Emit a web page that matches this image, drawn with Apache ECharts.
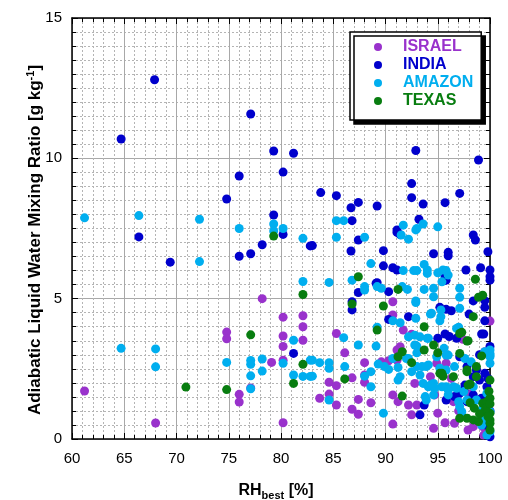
<!DOCTYPE html>
<html><head><meta charset="utf-8">
<script src="https://cdn.jsdelivr.net/npm/echarts@6/dist/echarts.min.js"></script>
<style>html,body{margin:0;padding:0;background:#fff}#c{width:508px;height:500px}</style>
</head><body><div id="c"></div>
<script>
var FONT = '"Liberation Sans", Arial, Helvetica, sans-serif';
var seriesNames = ['ISRAEL', 'INDIA', 'AMAZON', 'TEXAS'];
var seriesColors = ['#9932CC', '#0000CC', '#00AEEF', '#087D10'];
var xTicks = [60, 65, 70, 75, 80, 85, 90, 95, 100];
var yTicks = [0, 5, 10, 15];

var israel = [
[61.2,1.71],[68.0,0.57],[78.2,5.0],[74.8,3.81],[74.8,3.57],[76.0,1.59],[76.0,1.32],[77.1,1.82],[79.1,2.73],[80.2,4.34],[80.2,3.67],[80.2,3.30],[80.2,2.81],[80.2,0.58],[82.1,4.39],[82.1,4.0],[82.1,3.52],
[85.3,3.76],[86.1,3.07],[88.0,2.72],[84.6,2.02],[85.3,1.90],[84.6,1.60],[83.7,1.45],[85.3,1.21],[86.8,2.18],[88.0,2.02],[88.0,2.28],[87.4,1.41],[88.6,1.29],[86.8,1.06],[87.4,0.88],
[90.7,4.89],[90.7,4.42],[91.7,3.88],[91.4,3.29],[91.1,3.17],[91.1,2.81],[89.6,2.75],[90.3,2.79],[90.7,1.57],[91.2,1.33],[90.7,0.53],[92.2,1.21],[93.0,1.21],[92.5,0.86],[92.8,1.98],[94.7,1.57],[95.0,0.92],[94.6,0.38],[95.7,0.58],[96.6,0.56],[94.9,2.70],[95.8,2.70],[96.5,1.33],[97.9,0.32],[98.4,0.44],[99.3,0.44],[99.7,0.20],[100,4.2],[97.4,3.55],[99.5,3.11],[98.7,2.48],[92.5,3.73],[94.3,2.22],[96.3,2.16],[99.4,0.14],[97.0,1.0],[98.0,1.6]
];
var india = [
[64.7,10.69],[67.9,12.8],[77.1,11.58],[92.9,10.28],[98.9,9.94],[92.5,9.1],[83.8,8.78],[85.3,8.67],[92.5,8.6],[97.1,8.75],[87.4,8.43],[86.7,8.24],[89.2,8.3],[93.6,8.37],[95.7,8.42],[86.8,7.78],[93.2,7.83],
[76.0,9.37],[80.2,9.51],[79.3,10.26],[81.2,10.18],[74.8,8.55],[79.3,7.98],[80.2,7.29],[66.4,7.2],[78.2,6.92],[76.0,6.51],[77.1,6.6],[69.4,6.3],[82.8,6.88],[81.2,3.05],
[83.0,6.89],[87.4,7.09],[86.7,6.7],[89.8,6.71],[89.8,6.17],[91.1,7.36],[91.4,7.28],[91.1,7.45],[94.6,6.6],[96.0,6.65],[96.0,6.53],[98.4,7.27],[98.6,7.09],[99.8,6.67],[90.7,6.1],[91.1,6.02],[95.7,5.66],[97.7,6.02],[99.1,6.1],[100,6.02],[100,5.78],[100,5.66],[89.1,5.55],[87.4,5.22],[90.3,5.25],[86.8,4.89],[86.8,4.6],[95.2,4.69],[95.8,4.62],[96.3,4.57],[98.4,4.92],[99.5,4.93],[99.5,4.69],[99.5,4.21],[90.3,4.26],[92.2,4.36],[98.0,4.45],[95.7,3.74],[99.2,3.74],[99.4,3.74],[93.7,1.21],[93.3,0.86],
[97.1,2.93],[97.8,2.58],[98.4,2.22],[99.0,2.1],[99.7,1.86],[97.1,1.63],[98.1,1.39],[95.7,5.78],[95.8,5.66],
[95.0,3.59],[96.1,3.65],[96.8,3.59],[98.7,2.46],[99.5,2.34],[99.8,2.16],[97.5,1.75],[98.4,1.57],[99.2,1.45],[97.6,1.92],[97.8,1.33],[100,0.08],[96.6,1.51],[95.8,1.39],[89.2,5.57],[100,1.0],[99.6,0.5],[100,3.3],[99.0,3.0]
];
var amazon = [
[61.2,7.88],[66.4,7.96],[72.2,7.83],[76.0,7.5],[79.3,7.66],[79.3,7.41],[80.2,7.5],[82.1,7.15],[72.2,6.32],[82.1,5.61],[64.7,3.23],[68.0,3.21],[68.0,2.57],[74.8,2.73],[77.1,2.80],[77.1,2.66],[78.2,2.85],[78.2,2.42],[77.1,2.25],[77.1,1.79],[80.2,2.70],[81.2,3.52],[81.2,2.28],[82.1,2.23],[82.8,2.81],[82.8,2.23],
[85.3,7.78],[86.0,7.78],[85.3,7.19],[88.0,7.19],[91.7,7.62],[92.9,7.45],[93.6,7.66],[95.0,7.56],[91.5,7.27],[92.2,7.12],[88.6,6.25],[84.6,5.58],[86.8,5.66],[88.0,5.43],[88.0,5.31],[89.2,5.43],[89.6,5.37],[91.6,5.43],[91.7,6.0],[92.7,6.0],[93.0,6.0],[93.7,6.22],[94.0,6.02],[94.0,5.9],[95.0,5.92],[95.5,6.02],[95.8,6.0],[96.0,5.84],[92.1,5.33],[93.7,5.33],[94.6,5.37],[94.6,5.07],[97.1,5.37],[97.1,5.05],[92.9,4.92],[92.9,4.86],[90.7,4.21],[91.4,4.14],[92.9,4.3],[94.3,4.45],[95.2,4.21],[97.1,4.66],[95.4,5.6],[94.4,4.48],[95.3,4.6],[95.3,4.36],[97.0,3.98],[93.0,7.5],[89.2,3.98],
[86.0,3.61],[87.4,3.35],[89.1,3.31],[92.2,3.64],[92.8,3.70],[93.0,3.31],[93.0,3.07],[94.0,3.59],[95.6,3.23],[95.8,2.99],[96.8,3.94],[83.0,2.24],[83.0,2.81],[83.7,2.72],[84.6,2.72],[84.6,2.52],[86.1,2.58],[88.0,2.24],[88.6,2.40],[88.6,1.86],[89.3,2.67],[89.9,2.58],[90.3,2.48],[90.7,2.87],[91.2,2.55],[91.4,2.22],[91.2,2.10],[92.0,2.87],[93.0,2.58],[93.3,2.28],[93.9,2.58],[93.6,1.98],[94.1,1.86],[94.6,1.98],[95.8,1.86],[96.5,1.86],[84.6,1.39],[89.8,0.92],[93.9,1.39],[97.1,1.15],[97.8,1.39],[98.4,1.86],[99.7,1.63],[100,3.05],[100,3.17],[100,2.93],
[93.3,3.64],[94.1,3.59],[92.8,3.35],[92.2,2.87],[93.5,2.58],[94.1,2.64],[92.5,2.40],[94.9,2.93],[96.0,2.99],[95.2,2.52],[95.8,2.46],[96.6,2.58],[97.6,2.87],[98.2,2.75],[99.5,3.11],[100,2.99],[100,2.70],[94.3,1.92],[94.7,1.81],[95.4,1.86],[96.0,1.75],[96.8,1.81],[97.5,1.69],[93.8,1.51],[94.6,1.57],[96.0,1.57],[97.0,1.33],[98.7,1.39],[97.3,0.97],[99.2,1.03],[99.5,0.74],[100,0.97],[99.2,0.50],[100,0.26],[99.7,0.14]
];
var texas = [
[70.9,1.85],[74.8,1.76],[77.1,3.71],[79.3,7.23],[82.1,5.15],[82.1,2.66],[81.2,1.98],
[87.4,5.78],[86.8,4.81],[89.8,4.74],[91.2,5.33],[89.2,3.88],[93.7,4.0],[86.1,2.14],[91.6,3.11],[91.2,2.93],[92.5,2.72],[93.7,3.17],[94.6,3.35],[95.0,3.07],[95.2,2.34],[95.5,2.24],[96.5,2.22],[91.6,1.53],
[97.1,3.76],[97.9,3.50],[97.1,3.05],[98.6,5.69],[98.9,5.05],[99.3,5.12],[98.4,4.36],[99.2,2.96],[98.7,2.58],[97.8,2.40],[98.7,2.22],[100,2.10],[98.1,1.96],[98.1,1.29],[99.3,1.27],[99.7,1.33],[100,1.45],[97.1,0.74],[97.8,0.74],[98.4,0.68],[98.9,0.62],[99.5,0.97],[100,0.92],[100,0.68],[100,0.56],[100,0.32],[97.3,3.8],[97.8,3.49],[95.4,2.34],[97.8,2.46],[97.9,1.92],[99.6,1.1],[99.9,1.7],[99.8,0.8],[99.0,0.9],[98.5,1.1],[100,1.25]
];
var allData = [israel, india, amazon, texas];

var chart = echarts.init(document.getElementById('c'), null, {renderer: 'canvas'});

function xAxisDef(pos, showLabel, showSplit) {
  return {
    type: 'value', position: pos, min: xTicks[0], max: xTicks[xTicks.length - 1], interval: 5,
    axisLine: {show: true, onZero: false, lineStyle: {color: '#000', width: 1.5}},
    axisTick: {show: true, inside: true, length: 6, lineStyle: {color: '#000', width: 1}},
    minorTick: {show: true, splitNumber: 5, length: 4, lineStyle: {color: '#000', width: 1}},
    axisLabel: {show: showLabel, fontSize: 15, color: '#000', fontFamily: FONT, margin: 12},
    splitLine: {show: showSplit, lineStyle: {color: '#a8a8a8', width: 1}},
    minorSplitLine: {show: showSplit, lineStyle: {color: '#b4b4b4', width: 1, type: [2, 2]}}
  };
}
function yAxisDef(pos, showLabel, showSplit) {
  return {
    type: 'value', position: pos, min: yTicks[0], max: yTicks[yTicks.length - 1], interval: 5,
    axisLine: {show: true, onZero: false, lineStyle: {color: '#000', width: 1.5}},
    axisTick: {show: true, inside: true, length: 6, lineStyle: {color: '#000', width: 1}},
    minorTick: {show: true, splitNumber: 10, length: 4, lineStyle: {color: '#000', width: 1}},
    axisLabel: {show: showLabel, fontSize: 15, color: '#000', fontFamily: FONT, margin: 10},
    splitLine: {show: showSplit, lineStyle: {color: '#a8a8a8', width: 1}},
    minorSplitLine: {show: showSplit, lineStyle: {color: '#b4b4b4', width: 1, type: [2, 2]}}
  };
}

var option = {
  animation: false,
  backgroundColor: '#fff',
  grid: {left: 72, right: 18, top: 18, bottom: 61, containLabel: false},
  xAxis: [xAxisDef('bottom', true, true), xAxisDef('top', false, false)],
  yAxis: [yAxisDef('left', true, true), yAxisDef('right', false, false)],
  legend: {
    orient: 'vertical', left: 350, top: 32,
    itemWidth: 40, itemHeight: 8, itemGap: 2,
    padding: [7, 8, 11, 24],
    backgroundColor: '#fff', borderColor: '#000', borderWidth: 1.5, borderRadius: 0,
    shadowColor: '#000', shadowBlur: 0, shadowOffsetX: 4, shadowOffsetY: 4,
    textStyle: {fontSize: 16, fontWeight: 'bold', fontFamily: FONT, lineHeight: 16},
    data: seriesNames.map(function (n, i) {
      return {name: n, icon: 'circle', textStyle: {color: seriesColors[i]}};
    })
  },
  graphic: [
    {
      type: 'text', x: 35, y: 240, rotation: Math.PI / 2,
      style: {
        text: 'Adiabatic Liquid Water Mixing Ratio [g kg{sup|-1}]',
        font: 'bold 17px ' + FONT, fill: '#000', align: 'center', verticalAlign: 'middle',
        rich: {sup: {fontSize: 11, fontWeight: 'bold', fontFamily: FONT, fill: '#000', verticalAlign: 'top', padding: [0, 0, 8, 0]}}
      }
    },
    {
      type: 'text', x: 276, y: 491,
      style: {
        text: 'RH{sub|best} [%]',
        font: 'bold 16px ' + FONT, fill: '#000', align: 'center', verticalAlign: 'middle',
        rich: {sub: {fontSize: 11, fontWeight: 'bold', fontFamily: FONT, fill: '#000', padding: [10, 0, 0, 0]}}
      }
    }
  ],
  series: seriesNames.map(function (n, i) {
    return {
      name: n, type: 'scatter', xAxisIndex: 0, yAxisIndex: 0,
      symbol: 'circle', symbolSize: 9,
      itemStyle: {color: seriesColors[i], opacity: 1},
      data: allData[i]
    };
  })
};
chart.setOption(option);
</script></body></html>
